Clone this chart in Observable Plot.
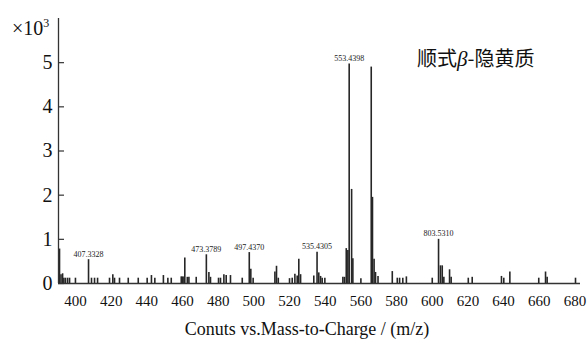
<!DOCTYPE html>
<html><head><meta charset="utf-8">
<script src="https://cdn.jsdelivr.net/npm/d3@7"></script>
<script src="https://cdn.jsdelivr.net/npm/@observablehq/plot@0.6"></script>
<style>
body{margin:0;background:#fff;}
#wrap{position:relative;width:587px;height:345px;overflow:hidden;}
.t{position:absolute;white-space:nowrap;color:#111;line-height:1;}
</style></head><body>
<div id="wrap"></div>
<script>
// m/z of each peak and its intensity (×10^3 counts)
const mz = [391.07,391.9,392.8,393.5,394.4,395.6,396.7,400.0,407.3328,409.0,410.7,412.4,419.1,420.95,421.9,424.7,429.6,435.2,440.2,442.6,444.5,449.3,451.8,453.7,459.3,460.0,460.8,461.3,462.7,463.6,467.7,473.3789,474.8,475.7,480.2,481.3,483.2,484.5,486.9,493.5,497.4370,498.3,499.6,511.8,512.7,513.7,520.0,521.5,523.0,524.3,525.2,526.2,533.6,535.4305,536.4,537.4,538.3,539.8,549.9,550.8,551.8,552.7,553.4398,554.8,555.5,560.0,565.8,566.5,567.4,568.2,569.6,577.6,580.4,581.7,583.5,585.5,600.0,603.5310,604.6,605.6,606.5,609.7,610.6,620.2,622.4,638.8,640.1,643.5,659.7,663.5,664.4,680.3];
const intensity = [0.78,0.2,0.22,0.12,0.12,0.12,0.12,0.12,0.54,0.12,0.12,0.12,0.12,0.2,0.12,0.12,0.12,0.12,0.12,0.18,0.12,0.18,0.12,0.12,0.15,0.15,0.15,0.58,0.14,0.14,0.14,0.65,0.25,0.14,0.12,0.12,0.2,0.18,0.18,0.12,0.7,0.32,0.12,0.26,0.39,0.12,0.11,0.12,0.21,0.17,0.55,0.2,0.17,0.71,0.24,0.16,0.12,0.12,0.14,0.14,0.79,0.75,4.97,2.13,0.56,0.11,4.9,1.95,0.55,0.25,0.16,0.27,0.12,0.12,0.12,0.15,0.12,1.0,0.4,0.4,0.14,0.31,0.14,0.12,0.14,0.16,0.12,0.26,0.12,0.26,0.14,0.12];
const peakLabelMz = [407.3328,473.3789,497.4370,535.4305,553.4398,603.5310];
const peakLabelIntensity = [0.54,0.65,0.7,0.71,4.97,1.0];
const peakLabelText = ["407.3328","473.3789","497.4370","535.4305","553.4398","803.5310"];
const xTicks = [400,420,440,460,480,500,520,540,560,580,600,620,640,660,680];
const yTicks = [0,1,2,3,4,5];
const xDomain = [390.5, 683.1];
const yDomain = [0, 6];

const peaks = mz.map((m, i) => ({mz: m, i: intensity[i]}));
const labels = peakLabelMz.map((m, i) => ({mz: m, i: peakLabelIntensity[i], t: peakLabelText[i]}));

const W = 587, H = 345;
const mL = 58, mR = 7, mT = 18, mB = 62;
const serif = "'Liberation Serif', 'Times New Roman', serif";

const chart = Plot.plot({
  width: W, height: H,
  marginLeft: mL, marginRight: mR, marginTop: mT, marginBottom: mB,
  style: {fontFamily: serif, background: "#fff", color: "#111"},
  x: {domain: xDomain},
  y: {domain: yDomain},
  marks: [
    Plot.ruleX(peaks, {x: "mz", y1: 0, y2: "i", stroke: "#262626", strokeWidth: 1.6}),
    Plot.text(labels, {x: "mz", y: "i", text: "t", lineAnchor: "bottom", dy: -3, fontSize: 8, fill: "#222"}),
    Plot.ruleY([0], {stroke: "#333", strokeWidth: 1.3}),
    Plot.ruleX([xDomain[0]], {stroke: "#333", strokeWidth: 1.3}),
    Plot.tickY(yTicks, {y: d => d, insetRight: W - mL - mR - 6, stroke: "#333", strokeWidth: 1.2}),
    Plot.axisY({ticks: yTicks, tickFormat: d3.format("d"), tickSize: 0, tickPadding: 6, fontSize: 20, label: null}),
    Plot.axisX({ticks: xTicks, tickFormat: d3.format("d"), tickSize: 0, tickPadding: 12, fontSize: 15, label: null})
  ]
});
const wrap = document.getElementById("wrap");
wrap.appendChild(chart);

const add = (html, css) => {
  const d = document.createElement("div");
  d.className = "t";
  d.innerHTML = html;
  Object.assign(d.style, css);
  wrap.appendChild(d);
};
add("×10<span style='font-size:12px;vertical-align:8px'>3</span>", {left: "12px", top: "17px", fontSize: "20px", fontFamily: serif});
add("顺式<span style=\"font-family:'Liberation Serif',serif;font-style:italic;font-size:21px\">β</span>-隐黄质", {left: "417px", top: "48px", fontSize: "20px", fontFamily: "'Noto Sans CJK SC', sans-serif"});
add("Conuts vs.Mass-to-Charge / (m/z)", {left: "307px", top: "320px", transform: "translateX(-50%)", fontSize: "18px", fontFamily: serif});
</script>
</body></html>
